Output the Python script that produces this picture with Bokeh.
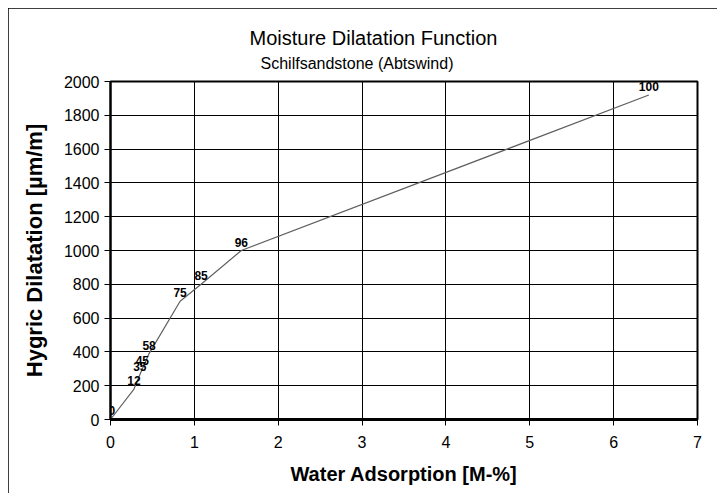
from bokeh.plotting import figure
from bokeh.models import ColumnDataSource, LabelSet, Label, Range1d, FixedTicker, Title
from bokeh.core.properties import value
from bokeh.embed import file_html
from bokeh.resources import INLINE

# data
rel_humidity = ["0", "12", "35", "45", "58", "75", "85", "96", "100"]
water_adsorption = [0.0, 0.28, 0.35, 0.38, 0.46, 0.83, 1.08, 1.56, 6.42]
dilatation = [0, 180, 265, 300, 390, 700, 800, 1000, 1920]
x_ticks = [0, 1, 2, 3, 4, 5, 6, 7]
y_ticks = [0, 200, 400, 600, 800, 1000, 1200, 1400, 1600, 1800, 2000]

FONT = "Liberation Sans"

p = figure(width=709, height=485, output_backend="svg", toolbar_location=None, title=None,
           x_range=Range1d(0, 7), y_range=Range1d(0, 2000),
           min_border_left=102, min_border_right=20, min_border_top=73, min_border_bottom=74)
p.styles = {"outline": "1px solid #000", "outline-offset": "-1px",
            "margin-left": "8px", "margin-top": "8px"}
p.background_fill_color = "white"
p.border_fill_color = "white"
p.outline_line_color = "black"
p.outline_line_width = 2

src = ColumnDataSource(dict(x=water_adsorption, y=dilatation, t=rel_humidity))
p.line("x", "y", source=src, line_color="#606060", line_width=1.2)

rest = ColumnDataSource(dict(x=water_adsorption[1:], y=dilatation[1:], t=rel_humidity[1:]))
p.add_layout(LabelSet(x="x", y="y", text="t", source=rest, text_align="center",
                      text_baseline="bottom", y_offset=4, text_font=value(FONT),
                      text_font_style="bold", text_font_size="12px", text_color="black"))
p.add_layout(Label(x=water_adsorption[0], y=dilatation[0], text=rel_humidity[0],
                   text_align="left", x_offset=-2, text_baseline="bottom", y_offset=5,
                   text_font=FONT, text_font_style="bold", text_font_size="12px",
                   text_color="black"))

for g in (p.xgrid, p.ygrid):
    g.grid_line_color = "black"
    g.grid_line_width = 1
    g.grid_line_alpha = 1

p.xaxis.ticker = FixedTicker(ticks=x_ticks)
p.yaxis.ticker = FixedTicker(ticks=y_ticks)
p.xgrid.ticker = FixedTicker(ticks=x_ticks)
p.ygrid.ticker = FixedTicker(ticks=y_ticks)

for ax in (p.xaxis, p.yaxis):
    ax.axis_line_color = "black"
    ax.major_tick_line_color = "black"
    ax.major_tick_in = 0
    ax.major_tick_out = 6
    ax.minor_tick_line_color = None
    ax.major_label_text_font = FONT
    ax.major_label_text_font_size = "16px"
    ax.major_label_text_color = "black"
    ax.axis_label_text_font = FONT
    ax.axis_label_text_font_style = "bold"
    ax.axis_label_text_color = "black"

p.xaxis.axis_label_text_font_size = "20px"
p.yaxis.axis_label_text_font_size = "22px"
p.xaxis.axis_line_width = 3
p.yaxis.axis_line_width = 2
p.xaxis.major_label_standoff = 10
p.yaxis.major_label_standoff = 5
p.xaxis.axis_label = "Water Adsorption [M-%]"
p.yaxis.axis_label = "Hygric Dilatation [µm/m]"
p.xaxis.axis_label_standoff = 12
p.yaxis.axis_label_standoff = 14

sub = Title(text="Schilfsandstone (Abtswind)", align="left", offset=150, standoff=19,
            text_font=FONT, text_font_size="16px", text_font_style="normal", text_color="black")
main = Title(text="Moisture Dilatation Function", align="left", offset=139, standoff=-11,
             text_font=FONT, text_font_size="20px", text_font_style="normal", text_color="black")
p.add_layout(sub, "above")
p.add_layout(main, "above")

open("out.html", "w").write(file_html(p, INLINE))
